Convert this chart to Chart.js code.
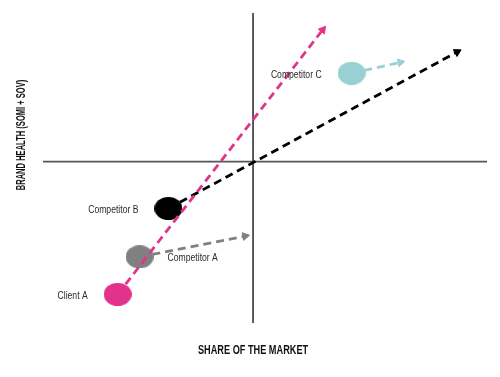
<!DOCTYPE html>
<html>
<head>
<meta charset="utf-8">
<script src="https://cdn.jsdelivr.net/npm/chart.js@4.4.1/dist/chart.umd.min.js"></script>
<style>
  html, body { margin: 0; padding: 0; background: #fff; }
  #wrap { width: 500px; height: 377px; }
</style>
</head>
<body>
<div id="wrap"><canvas id="myChart"></canvas></div>
<script>
// brand positions now and where they are heading (share of market, brand health)
let companies = ['Client A', 'Competitor A', 'Competitor B', 'Competitor C'];
let share_now = [-13.6, -11.4, -8.5, 9.9];
let health_now = [-13.45, -9.65, -4.75, 8.95];
let share_next = [7.0, -0.8, 20.5, 14.8];
let health_next = [13.35, -7.55, 11.1, 10.05];
let x_range = [-21.1, 23.5];
let y_range = [-16.35, 15.05];

let x_title = 'SHARE OF THE MARKET';
let y_title = 'BRAND HEALTH (SOMI + SOV)';

let colors = ['#e2338b', '#808080', '#000000', '#98d1d3'];
let label_side = ['left', 'right', 'left', 'left'];

function makeEllipse(color, w, h) {
    let c = document.createElement('canvas');
    c.width = w;
    c.height = h;
    let g = c.getContext('2d');
    g.fillStyle = color;
    g.beginPath();
    g.ellipse(w / 2, h / 2, w / 2, h / 2, 0, 0, Math.PI * 2);
    g.fill();
    return c;
}

let blobs = colors.map(c => makeEllipse(c, 28, 23));

function arrowRotation(ctx) {
    let data = ctx.dataset.data;
    let i = ctx.dataIndex;
    if (i === 0) return 0;
    let sx = ctx.chart.scales.x, sy = ctx.chart.scales.y;
    let dx = sx.getPixelForValue(data[i].x) - sx.getPixelForValue(data[i - 1].x);
    let dy = sy.getPixelForValue(data[i].y) - sy.getPixelForValue(data[i - 1].y);
    return Math.atan2(dx, -dy) * 180 / Math.PI;
}

let arrows = companies.map((name, i) => ({
    label: name + ' trend',
    showLine: true,
    data: [{x: share_now[i], y: health_now[i]}, {x: share_next[i], y: health_next[i]}],
    borderColor: colors[i],
    backgroundColor: colors[i],
    borderWidth: 2.8,
    borderDash: [8, 5],
    pointStyle: ctx => ctx.dataIndex === 1 ? 'triangle' : false,
    pointRadius: ctx => ctx.dataIndex === 1 ? 4.5 : 0,
    pointBorderWidth: 1,
    pointRotation: arrowRotation,
    order: 1
}));

let axes_lines = [
    {
        label: 'x axis',
        showLine: true,
        data: [{x: x_range[0], y: 0}, {x: x_range[1], y: 0}],
        borderColor: '#555555',
        borderWidth: 1.6,
        pointRadius: 0,
        clip: false,
        order: 3
    },
    {
        label: 'y axis',
        showLine: true,
        data: [{x: 0, y: y_range[0]}, {x: 0, y: y_range[1]}],
        borderColor: '#333333',
        borderWidth: 1.6,
        pointRadius: 0,
        clip: false,
        order: 3
    }
];

let brands = {
    label: 'brands',
    data: companies.map((n, i) => ({x: share_now[i], y: health_now[i]})),
    pointStyle: blobs,
    pointRadius: 12,
    order: 2
};

// the original uses a condensed face, so squeeze the text horizontally
function condensedText(ctx, text, x, y, squeeze) {
    ctx.save();
    ctx.translate(x, y);
    ctx.scale(squeeze, 1);
    ctx.fillText(text, 0, 0);
    ctx.restore();
}

let labelsPlugin = {
    id: 'brandLabels',
    afterDatasetsDraw(chart) {
        let meta = chart.getDatasetMeta(chart.data.datasets.length - 1);
        let ctx = chart.ctx;
        ctx.save();
        ctx.font = '10.5px "Liberation Sans", Arial, sans-serif';
        ctx.fillStyle = '#2b2b2b';
        ctx.textBaseline = 'middle';
        meta.data.forEach((pt, i) => {
            if (label_side[i] === 'left') {
                ctx.textAlign = 'right';
                condensedText(ctx, companies[i], pt.x - 30, pt.y + 2, 0.82);
            } else {
                ctx.textAlign = 'left';
                condensedText(ctx, companies[i], pt.x + 28, pt.y + 1, 0.82);
            }
        });
        ctx.restore();
    }
};

let titlesPlugin = {
    id: 'axisTitles',
    afterDraw(chart) {
        let ctx = chart.ctx;
        let area = chart.chartArea;
        let ox = chart.scales.x.getPixelForValue(0);
        ctx.save();
        ctx.fillStyle = '#111111';
        ctx.textAlign = 'center';
        ctx.textBaseline = 'middle';
        ctx.font = 'bold 13.5px "Liberation Sans", Arial, sans-serif';
        condensedText(ctx, x_title, ox, area.bottom + 27, 0.68);
        ctx.translate(area.left - 22, area.top + 122);
        ctx.rotate(-Math.PI / 2);
        ctx.font = 'bold 13.5px "Liberation Sans", Arial, sans-serif';
        condensedText(ctx, y_title, 0, 0, 0.56);
        ctx.restore();
    }
};

let config = {
    type: 'scatter',
    data: {
        datasets: [...axes_lines, ...arrows, brands]
    },
    options: {
        responsive: true,
        maintainAspectRatio: false,
        animation: false,
        layout: {
            padding: {left: 43, right: 11, top: 9, bottom: 54}
        },
        scales: {
            x: {type: 'linear', min: x_range[0], max: x_range[1], display: false},
            y: {type: 'linear', min: y_range[0], max: y_range[1], display: false}
        },
        plugins: {
            legend: {display: false},
            tooltip: {enabled: false}
        }
    },
    plugins: [labelsPlugin, titlesPlugin]
};

let myChart = new Chart(
    document.getElementById('myChart'),
    config
);
</script>
</body>
</html>
